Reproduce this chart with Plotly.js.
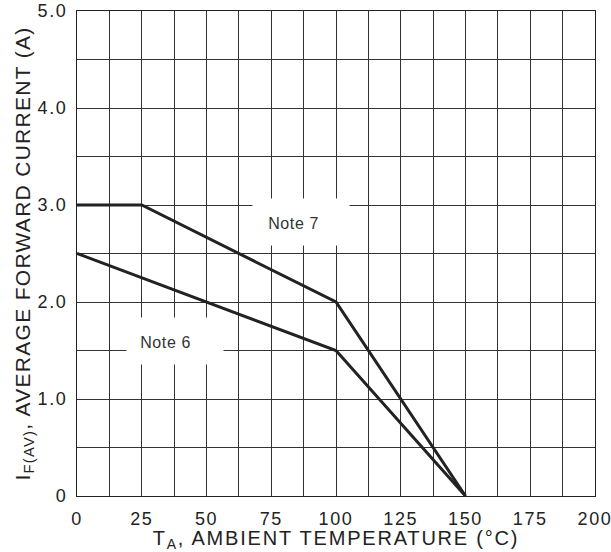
<!DOCTYPE html>
<html>
<head>
<meta charset="utf-8">
<script src="https://cdn.plot.ly/plotly-3.0.1.min.js"></script>
<style>
html,body{margin:0;padding:0;background:#fff;}
#chart .xtick text, #chart .ytick text {letter-spacing: 1.6px;}
#chart .g-xtitle text {letter-spacing: 1.8px;}
#chart .g-ytitle text {letter-spacing: 1.3px;}
#chart .annotation-text {letter-spacing: 0.6px;}
</style>
</head>
<body>
<div id="chart" style="width:611px;height:552px;"></div>
<script>
// Data
const note7Temp = [0, 25, 100, 150];
const note7Current = [3.0, 3.0, 2.0, 0];
const note6Temp = [0, 100, 150];
const note6Current = [2.5, 1.5, 0];
const xTickVals = [0, 25, 50, 75, 100, 125, 150, 175, 200];
const xTickText = ['0', '25', '50', '75', '100', '125', '150', '175', '200'];
const yTickVals = [0, 1, 2, 3, 4, 5];
const yTickText = ['0', '1.0', '2.0', '3.0', '4.0', '5.0'];
const noteLabels = ['Note 7', 'Note 6'];
const noteTextTemp = [83.5, 34];
const noteTextCurrent = [2.81, 1.58];
const noteBoxTemp = [86.5, 37.8];
const noteBoxCurrent = [2.825, 1.595];

const font = 'Liberation Sans, Arial, sans-serif';
const traces = [
  {x: note7Temp, y: note7Current, mode: 'lines', line: {color: '#222', width: 3}, hoverinfo: 'skip'},
  {x: note6Temp, y: note6Current, mode: 'lines', line: {color: '#222', width: 3}, hoverinfo: 'skip'}
];
const boxes = noteLabels.map((t, i) => ({
  x: noteBoxTemp[i], y: noteBoxCurrent[i], xref: 'x', yref: 'y', text: '&nbsp;', showarrow: false,
  font: {family: font, size: 12, color: '#fff'}, bgcolor: '#fff',
  borderpad: 0, width: 96, height: 46
}));
const labels = noteLabels.map((t, i) => ({
  x: noteTextTemp[i], y: noteTextCurrent[i], xref: 'x', yref: 'y', text: t, showarrow: false,
  font: {family: font, size: 16, color: '#333'}
}));
const layout = {
  width: 611, height: 552,
  margin: {l: 77, r: 16, t: 11, b: 56},
  paper_bgcolor: '#fff', plot_bgcolor: '#fff',
  showlegend: false,
  font: {family: font, color: '#222'},
  xaxis: {
    range: [0, 200], tickvals: xTickVals, ticktext: xTickText,
    showgrid: true, gridcolor: '#333', gridwidth: 1,
    minor: {dtick: 12.5, showgrid: true, gridcolor: '#333', gridwidth: 1},
    showline: true, linecolor: '#222', linewidth: 1, mirror: true,
    zeroline: false, ticks: 'outside', ticklen: 6, tickcolor: 'rgba(0,0,0,0)',
    tickfont: {family: font, size: 18, color: '#222'},
    title: {text: 'T<sub>A</sub>, AMBIENT TEMPERATURE (°C)', font: {family: font, size: 20, color: '#222'}, standoff: 3},
    fixedrange: true
  },
  yaxis: {
    range: [0, 5], tickvals: yTickVals, ticktext: yTickText,
    showgrid: true, gridcolor: '#333', gridwidth: 1,
    minor: {dtick: 0.5, showgrid: true, gridcolor: '#333', gridwidth: 1},
    showline: true, linecolor: '#222', linewidth: 1, mirror: true,
    zeroline: false, ticks: 'outside', ticklen: 5, tickcolor: 'rgba(0,0,0,0)',
    tickfont: {family: font, size: 18, color: '#222'},
    title: {text: 'I<sub>F(AV)</sub>, AVERAGE FORWARD CURRENT (A)', font: {family: font, size: 21, color: '#222'}, standoff: 6},
    fixedrange: true
  },
  annotations: boxes.concat(labels)
};
Plotly.newPlot('chart', traces, layout, {displayModeBar: false, staticPlot: true});
</script>
</body>
</html>
